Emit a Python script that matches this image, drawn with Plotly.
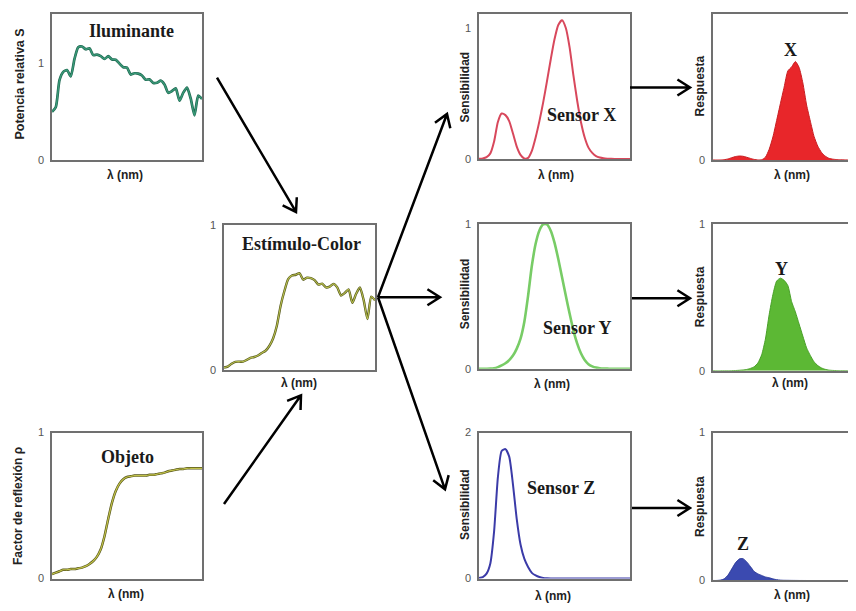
import math
import plotly.graph_objects as go

# ---------------- data ----------------
wavelength_nm = [380, 390, 400, 410, 420, 430, 440, 450, 460, 470, 480, 490, 500, 510, 520,
                 530, 540, 550, 560, 570, 580, 590, 600, 610, 620, 630, 640, 650, 660, 670,
                 680, 690, 700, 710, 720, 730, 740, 750, 760, 770, 780]

illuminant_S = [0.500, 0.547, 0.828, 0.915, 0.934, 0.867, 1.049, 1.170, 1.178, 1.149, 1.159,
                1.088, 1.094, 1.078, 1.048, 1.077, 1.044, 1.041, 1.000, 0.963, 0.958, 0.887,
                0.900, 0.896, 0.877, 0.833, 0.837, 0.800, 0.802, 0.823, 0.783, 0.697, 0.716,
                0.744, 0.616, 0.699, 0.751, 0.636, 0.464, 0.668, 0.634]

object_rho = [0.030, 0.040, 0.050, 0.060, 0.060, 0.065, 0.065, 0.070, 0.075, 0.085, 0.100,
              0.120, 0.150, 0.200, 0.290, 0.410, 0.520, 0.600, 0.650, 0.680, 0.695, 0.700,
              0.705, 0.705, 0.705, 0.705, 0.710, 0.710, 0.715, 0.720, 0.725, 0.735, 0.740,
              0.745, 0.750, 0.750, 0.755, 0.755, 0.755, 0.755, 0.755]

stimulus = [0.015, 0.022, 0.041, 0.055, 0.056, 0.056, 0.068, 0.082, 0.088, 0.098, 0.116,
            0.131, 0.164, 0.216, 0.304, 0.442, 0.543, 0.625, 0.650, 0.655, 0.666, 0.621,
            0.635, 0.632, 0.618, 0.587, 0.594, 0.568, 0.573, 0.592, 0.568, 0.512, 0.530,
            0.554, 0.462, 0.524, 0.567, 0.480, 0.350, 0.504, 0.479]

sensor_x = [0.0014, 0.0042, 0.0143, 0.0435, 0.1344, 0.2839, 0.3483, 0.3362, 0.2908, 0.1954,
            0.0956, 0.0320, 0.0049, 0.0093, 0.0633, 0.1655, 0.2904, 0.4334, 0.5945, 0.7621,
            0.9163, 1.0263, 1.0622, 1.0026, 0.8544, 0.6424, 0.4479, 0.2835, 0.1649, 0.0874,
            0.0468, 0.0227, 0.0114, 0.0058, 0.0029, 0.0014, 0.0007, 0.0003, 0.0002, 0.0001, 0.0000]

sensor_y = [0.0000, 0.0001, 0.0004, 0.0012, 0.0040, 0.0116, 0.0230, 0.0380, 0.0600, 0.0910,
            0.1390, 0.2080, 0.3230, 0.5030, 0.7100, 0.8620, 0.9540, 0.9950, 0.9950, 0.9520,
            0.8700, 0.7570, 0.6310, 0.5030, 0.3810, 0.2650, 0.1750, 0.1070, 0.0610, 0.0320,
            0.0170, 0.0082, 0.0041, 0.0021, 0.0010, 0.0005, 0.0002, 0.0001, 0.0001, 0.0000, 0.0000]

sensor_z = [0.0065, 0.0201, 0.0679, 0.2074, 0.6456, 1.3856, 1.7471, 1.7721, 1.6692, 1.2876,
            0.8130, 0.4652, 0.2720, 0.1582, 0.0783, 0.0422, 0.0203, 0.0088, 0.0039, 0.0021,
            0.0017, 0.0011, 0.0008, 0.0003, 0.0002, 0.0001, 0.0000, 0.0000, 0.0000, 0.0000,
            0.0000, 0.0000, 0.0000, 0.0000, 0.0000, 0.0000, 0.0000, 0.0000, 0.0000, 0.0000, 0.0000]

response_x = [0.0000, 0.0001, 0.0006, 0.0024, 0.0075, 0.0160, 0.0238, 0.0275, 0.0257, 0.0191,
              0.0111, 0.0042, 0.0008, 0.0020, 0.0192, 0.0732, 0.1577, 0.2709, 0.3864, 0.4992,
              0.6103, 0.6373, 0.6745, 0.6336, 0.5283, 0.3772, 0.2662, 0.1611, 0.0946, 0.0518,
              0.0265, 0.0116, 0.0060, 0.0032, 0.0013, 0.0008, 0.0004, 0.0002, 0.0001, 0.0000, 0.0000]

response_y = [0.0000, 0.0000, 0.0000, 0.0001, 0.0002, 0.0007, 0.0016, 0.0031, 0.0053, 0.0089,
              0.0161, 0.0272, 0.0530, 0.1086, 0.2158, 0.3810, 0.5180, 0.6100, 0.6300, 0.6150,
              0.5794, 0.4701, 0.4004, 0.3177, 0.2356, 0.1556, 0.1040, 0.0608, 0.0350, 0.0190,
              0.0096, 0.0042, 0.0022, 0.0012, 0.0005, 0.0003, 0.0001, 0.0001, 0.0000, 0.0000, 0.0000]

response_z = [0.0001, 0.0004, 0.0028, 0.0114, 0.0362, 0.0780, 0.1191, 0.1451, 0.1476, 0.1257,
              0.0942, 0.0608, 0.0446, 0.0342, 0.0238, 0.0186, 0.0110, 0.0055, 0.0025, 0.0014,
              0.0011, 0.0007, 0.0005, 0.0002, 0.0001, 0.0000, 0.0000, 0.0000, 0.0000, 0.0000,
              0.0000, 0.0000, 0.0000, 0.0000, 0.0000, 0.0000, 0.0000, 0.0000, 0.0000, 0.0000, 0.0000]

# ---------------- layout helpers ----------------
# the page body has an 8px margin, so the figure is 848x603 and starts at (8, 8)
OFF = 8
W, H = 856 - OFF, 611 - OFF


def px(x):
    return (x - OFF) / W


def py(y):
    return 1 - (y - OFF) / H


AXIS_COLOR = "#707070"
SANS = "Liberation Sans, Arial, sans-serif"
SERIF = "Liberation Serif, Times New Roman, serif"

# panel: (box x0, x1, y0, y1 in page px, y range, y ticks, x range, right border)
panels = [
    ((52, 202, 8, 157), [0, 1.515], [0, 1], [380, 780], True),      # Iluminante
    ((52, 202, 435, 584), [0, 1], [0, 1], [380, 780], True),        # Objeto
    ((224, 375, 223, 371), [0, 1], [0, 1], [380, 780], True),       # Estimulo
    ((479, 630, 8, 156), [0, 1.11], [0, 1], [380, 780], True),      # Sensor X
    ((479, 630, 222, 370), [0, 1], [0, 1], [380, 780], True),       # Sensor Y
    ((479, 630, 435, 584), [0, 2], [0, 2], [380, 780], True),       # Sensor Z
    ((713, 856, 8, 157), [0, 1], [0, 1], [380, 762], False),        # Respuesta X
    ((713, 856, 222, 372), [0, 1], [0, 1], [380, 762], False),      # Respuesta Y
    ((713, 856, 435, 586), [0, 1], [0, 1], [380, 762], False),      # Respuesta Z
]

layout = dict(
    width=W, height=H,
    margin=dict(l=0, r=0, t=0, b=0),
    paper_bgcolor="white", plot_bgcolor="white",
    showlegend=False,
)

for i, (box, yr, yt, xr, right) in enumerate(panels, start=1):
    x0, x1, y0, y1 = box
    sfx = "" if i == 1 else str(i)
    layout["xaxis" + sfx] = dict(
        domain=[px(x0), min(px(x1), 1.0)], range=xr, anchor="y" + sfx,
        showline=True, linecolor=AXIS_COLOR, linewidth=1.5, mirror=True,
        showticklabels=False, ticks="", showgrid=False, zeroline=False, fixedrange=True,
    )
    layout["yaxis" + sfx] = dict(
        domain=[py(y1), min(py(y0), 1.0)], range=yr, anchor="x" + sfx,
        showline=True, linecolor=AXIS_COLOR, linewidth=1.5, mirror=right,
        tickvals=yt, ticktext=[str(v) for v in yt], ticks="outside", ticklen=4,
        tickcolor="rgba(0,0,0,0)",
        tickfont=dict(family=SANS, size=11, color="#555555"),
        showgrid=False, zeroline=False, fixedrange=True,
    )

fig = go.Figure()


def axes(i):
    return ("x", "y") if i == 1 else ("x%d" % i, "y%d" % i)


def line(i, ys, color, width, edge=None):
    xa, ya = axes(i)
    if edge:
        fig.add_trace(go.Scatter(x=wavelength_nm, y=ys, mode="lines", xaxis=xa, yaxis=ya,
                                 line=dict(color=edge, width=width + 1.3, shape="spline", smoothing=0.6),
                                 hoverinfo="skip"))
    fig.add_trace(go.Scatter(x=wavelength_nm, y=ys, mode="lines", xaxis=xa, yaxis=ya,
                             line=dict(color=color, width=width, shape="spline", smoothing=0.6)))


def area(i, ys, color, edge):
    xa, ya = axes(i)
    fig.add_trace(go.Scatter(x=wavelength_nm, y=ys, mode="lines", xaxis=xa, yaxis=ya,
                             fill="tozeroy", fillcolor=color,
                             line=dict(color=edge, width=1, shape="spline", smoothing=0.6)))


line(1, illuminant_S, "#3a9a78", 1.4, edge="#1e6650")
line(2, object_rho, "#c2c24a", 1.2, edge="#55551a")
line(3, stimulus, "#b8bf50", 1.1, edge="#55581c")
line(4, sensor_x, "#d8485c", 2.0)
line(5, sensor_y, "#78cc66", 2.6)
line(6, sensor_z, "#3b3ba8", 2.0)
area(7, response_x, "#e8262a", "#c81e22")
area(8, response_y, "#5cb834", "#4aa02a")
area(9, response_z, "#3b4ab0", "#2e3c9a")

# ---------------- annotations ----------------
ann = []


def text(x, y, s, size, family=SANS, bold=True, angle=0, color="#1a1a1a"):
    ann.append(dict(x=px(x), y=py(y), xref="paper", yref="paper", text=("<b>%s</b>" % s) if bold else s,
                    showarrow=False, textangle=angle, xanchor="center", yanchor="middle",
                    font=dict(family=family, size=size, color=color)))


# panel titles
text(131, 25, "Iluminante", 18, SERIF)
text(127, 460, "Objeto", 18, SERIF)
text(301, 243, "Estímulo-Color", 18, SERIF)
text(581, 111, "Sensor X", 18, SERIF)
text(577, 328, "Sensor Y", 18, SERIF)
text(561, 492, "Sensor Z", 18, SERIF)
text(790, 45, "X", 18, SERIF)
text(781, 268, "Y", 18, SERIF)
text(743, 549, "Z", 18, SERIF)

# y titles
text(20, 80, "Potencia relativa S", 12.5, angle=-90, color="#222222")
text(18, 510, "Factor de reflexión ρ", 12, angle=-90, color="#222222")
for yy in (82, 293, 508):
    text(465, yy, "Sensibilidad", 12, angle=-90, color="#222222")
for yy in (82, 297, 511):
    text(700, yy, "Respuesta", 12, angle=-90, color="#222222")

# x titles
for (xx, yy) in [(125, 172), (126, 600), (299, 385), (556, 172), (552, 386), (553, 602),
                 (792, 172), (790, 384), (792, 601)]:
    text(xx, yy, "λ (nm)", 12, color="#222222")

layout["annotations"] = ann

# ---------------- arrows (decorative) ----------------
arrows = [((217, 73), (296, 210)), ((224, 508), (301, 397)),
          ((378, 297), (447, 110)), ((378, 297), (440, 297)), ((378, 297), (445, 493)),
          ((630, 83), (690, 83)), ((632, 298), (690, 298)), ((632, 512), (690, 512))]
shapes = []
for (sx, sy), (ex, ey) in arrows:
    dx, dy = ex - sx, ey - sy
    L = math.hypot(dx, dy)
    ux, uy = dx / L, dy / L
    pts = []
    for sgn in (1, -1):
        a = math.radians(33) * sgn
        rx = ux * math.cos(a) - uy * math.sin(a)
        ry = ux * math.sin(a) + uy * math.cos(a)
        pts.append((ex - 15 * rx, ey - 15 * ry))
    path = "M %f,%f L %f,%f M %f,%f L %f,%f L %f,%f" % (
        px(sx), py(sy), px(ex), py(ey),
        px(pts[0][0]), py(pts[0][1]), px(ex), py(ey), px(pts[1][0]), py(pts[1][1]))
    shapes.append(dict(type="path", path=path, xref="paper", yref="paper",
                       line=dict(color="black", width=2.5)))
layout["shapes"] = shapes

fig.update_layout(**layout)
fig.write_html("out.html")
